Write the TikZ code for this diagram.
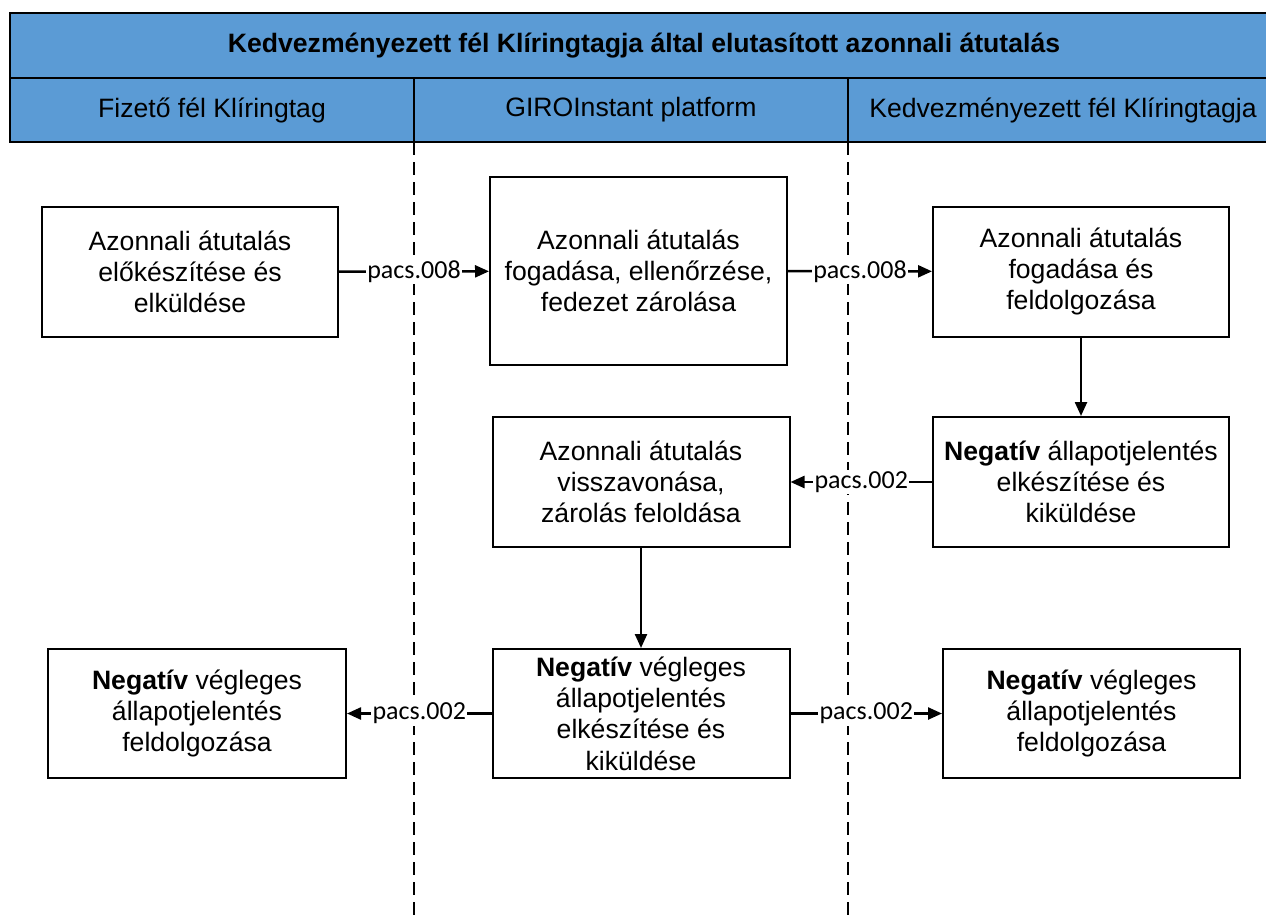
\documentclass[tikz,border=0pt]{standalone}
\usepackage{fontspec}
\setmainfont{Liberation Sans}
\newfontfamily\msgfont{Carlito}
\usetikzlibrary{arrows.meta}
\definecolor{headblue}{HTML}{5B9BD5}
\newcommand\boxtextstyle{\fontsize{26.6}{31.3}\selectfont}
\newcommand\msgtextstyle{\msgfont\fontsize{26}{30}\selectfont}
\newcommand\boxwidth{296}
\newcommand\boxheight{130}
\tikzset{
  headband/.style={draw=black, line width=2pt, fill=headblue},
  headtext/.style={font=\boxtextstyle, inner sep=0pt},
  swimline/.style={line width=1.3pt, dash pattern=on 13pt off 7pt},
  stepbox/.style={draw=black, line width=2pt, fill=white, align=center, inner sep=0pt,
    minimum width=\boxwidth, minimum height=\boxheight, font=\boxtextstyle},
  msg/.style={line width=2.4pt, -{Triangle[length=14pt, width=12pt]}},
  msglabel/.style={fill=white, inner sep=1.5pt, font=\msgtextstyle},
}
\begin{document}
\begin{tikzpicture}[x=1pt, y=-1pt]
  \clip (0,0) rectangle (1266,918);
  \fill[white] (0,0) rectangle (1266,918);
  \draw[headband] (10,13) rectangle (1290,78);
  \draw[headband] (10,78) rectangle (1290,142);
  \draw[line width=2pt] (414,78) -- (414,142);
  \draw[line width=2pt] (848,78) -- (848,142);
  \node[headtext, font=\boxtextstyle\bfseries] (title) at (644,45.5)
    {Kedvezményezett fél Klíringtagja által elutasított azonnali átutalás};
  \node[headtext] (payerlane) at (212,110) {Fizető fél Klíringtag};
  \node[headtext] (girolane) at (631,110) {GIROInstant platform};
  \node[headtext] (payeelane) at (1063,110) {Kedvezményezett fél Klíringtagja};
  \draw[swimline] (414,142) -- (414,918);
  \draw[swimline] (848,142) -- (848,918);

  \node[stepbox] (send) at (190,272) {Azonnali átutalás\\előkészítése és\\elküldése};
  \node[stepbox, minimum width=297, minimum height=188] (check) at (638.5,271)
    {Azonnali átutalás\\fogadása, ellenőrzése,\\fedezet zárolása};
  \node[stepbox] (accept) at (1081,271.5) {Azonnali átutalás\\fogadása és\\feldolgozása};
  \node[stepbox] (reject) at (1081,482) {\textbf{Negatív} állapotjelentés\\elkészítése és\\kiküldése};
  \node[stepbox, minimum width=297] (revoke) at (641,482) {Azonnali átutalás\\visszavonása,\\zárolás feloldása};
  \node[stepbox, minimum width=297, minimum height=129] (final) at (641,713.5)
    {\textbf{Negatív} végleges\\állapotjelentés\\elkészítése és\\kiküldése};
  \node[stepbox, minimum width=298, minimum height=129] (payerend) at (197,713.5)
    {\textbf{Negatív} végleges\\állapotjelentés\\feldolgozása};
  \node[stepbox, minimum width=297, minimum height=129] (payeeend) at (1091.5,713.5)
    {\textbf{Negatív} végleges\\állapotjelentés\\feldolgozása};

  \draw[msg] (send) -- node[msglabel] {pacs.008} (check);
  \draw[msg] (check) -- node[msglabel] {pacs.008} (accept);
  \draw[msg] (accept) -- (reject);
  \draw[msg] (reject) -- node[msglabel] {pacs.002} (revoke);
  \draw[msg] (revoke) -- (final);
  \draw[msg] (final) -- node[msglabel] {pacs.002} (payerend);
  \draw[msg] (final) -- node[msglabel] {pacs.002} (payeeend);
\end{tikzpicture}
\end{document}
